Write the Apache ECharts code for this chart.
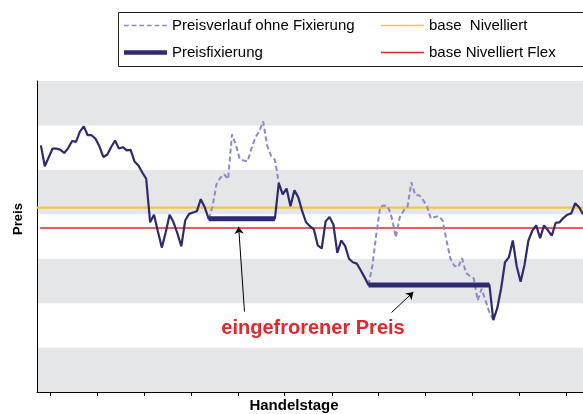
<!DOCTYPE html>
<html>
<head>
<meta charset="utf-8">
<script src="https://cdn.jsdelivr.net/npm/echarts@6/dist/echarts.min.js"></script>
<style>
  html, body { margin: 0; padding: 0; background: #fff; }
  #chart { width: 583px; height: 414px; }
</style>
</head>
<body>
<div id="chart"></div>
<script>
// Preis ohne Fixierung, ein Wert pro Handelstag (Tag 1..140)
const preisRoh = [
  5.55, 5.08, 5.28, 5.48, 5.48, 5.45, 5.38, 5.49, 5.65, 5.63,
  5.86, 5.98, 5.78, 5.78, 5.70, 5.53, 5.29, 5.34, 5.51, 5.66,
  5.48, 5.51, 5.44, 5.45, 5.19, 5.10, 4.94, 4.80, 3.82, 3.99,
  3.61, 3.25, 3.59, 3.99, 3.82, 3.57, 3.28, 3.86, 4.01, 4.04,
  4.07, 4.34, 4.16, 3.90, 4.17, 4.67, 4.82, 4.90, 4.79, 5.80,
  5.56, 5.24, 5.21, 5.19, 5.48, 5.73, 5.87, 6.09, 5.55, 5.32,
  5.23, 4.70, 4.45, 4.58, 4.18, 4.54, 4.38, 4.07, 3.82, 3.73,
  3.66, 3.30, 3.23, 3.84, 3.94, 3.77, 3.13, 3.41, 3.29, 3.00,
  2.92, 2.89, 2.74, 2.58, 2.41, 2.85, 3.55, 4.17, 4.20, 4.17,
  3.91, 3.48, 3.93, 4.08, 4.17, 4.72, 4.43, 4.43, 4.32, 4.18,
  3.90, 3.94, 3.96, 3.86, 3.41, 3.00, 2.84, 2.81, 3.01, 2.68,
  2.61, 2.56, 2.06, 2.32, 2.06, 1.79, 1.62, 1.88, 2.33, 2.92,
  3.03, 3.41, 2.83, 2.48, 2.86, 3.41, 3.63, 3.75, 3.46, 3.75,
  3.64, 3.52, 3.81, 3.82, 3.92, 3.99, 4.02, 4.25, 4.16, 4.00
];

// Fixierungs-Zeitraeume (Handelstage) und eingefrorener Preis
const fixVon = [44, 85];
const fixBis = [61, 116];
const fixNiveau = [3.90, 2.41];

const baseNivelliert = 4.15;
const baseNivelliertFlex = 3.69;

const tickTage = [3.3, 15.4, 27.4, 39.5, 51.5, 63.5, 75.6, 87.6, 99.6, 111.7, 123.7, 135.8];

const tage = preisRoh.map((v, i) => i + 1);

function fixIndex(tag, bisExtra) {
  for (let k = 0; k < fixVon.length; k++) {
    if (tag >= fixVon[k] && tag <= fixBis[k] + bisExtra) return k;
  }
  return -1;
}

const preisMitFix = tage.map((t, i) => {
  const k = fixIndex(t, 0);
  return [t, k >= 0 ? fixNiveau[k] : preisRoh[i]];
});
const preisOhneFix = tage.map((t, i) => [t, fixIndex(t, 1) >= 0 ? preisRoh[i] : null]);
const fixierung = tage.map(t => {
  const k = fixIndex(t, 0);
  return [t, k >= 0 ? fixNiveau[k] : null];
});

const navy = '#2d2a72';
const lila = '#8c89c8';
const gelb = '#f6c445';
const rot = '#e5262b';
const font = '"Liberation Sans", Arial, sans-serif';

const chart = echarts.init(document.getElementById('chart'));
chart.setOption({
  animation: false,
  textStyle: { fontFamily: font },
  grid: { left: 37, right: 0, top: 81, bottom: 22 },
  legend: [
    {
      orient: 'vertical', left: 119, top: 13, itemWidth: 43, itemHeight: 14, itemGap: 12,
      textStyle: { fontSize: 15, color: '#000', fontFamily: font },
      data: [
        { name: 'Preisverlauf ohne Fixierung', itemStyle: { color: lila },
          icon: 'path://M0,0h4.5v1.5h-4.5z M7.2,0h4.5v1.5h-4.5z M14.4,0h4.5v1.5h-4.5z M21.6,0h4.5v1.5h-4.5z M28.8,0h4.5v1.5h-4.5z M36,0h4.5v1.5h-4.5z' },
        { name: 'Preisfixierung', itemStyle: { color: navy }, icon: 'path://M0,0h43v4.5h-43z' }
      ]
    },
    {
      orient: 'vertical', left: 376, top: 13, itemWidth: 43, itemHeight: 14, itemGap: 12,
      textStyle: { fontSize: 15, color: '#000', fontFamily: font },
      data: [
        { name: 'base  Nivelliert', itemStyle: { color: gelb }, icon: 'path://M0,0h43v1.6h-43z' },
        { name: 'base Nivelliert Flex', itemStyle: { color: rot }, icon: 'path://M0,0h43v1.4h-43z' }
      ]
    }
  ],
  xAxis: {
    type: 'value', min: 0, max: 140,
    axisLine: { show: true, lineStyle: { color: '#000', width: 1 } },
    axisTick: { show: true, length: 4, customValues: tickTage, lineStyle: { color: '#000' } },
    axisLabel: { show: false },
    splitLine: { show: false }
  },
  yAxis: {
    type: 'value', min: 0, max: 7, interval: 1,
    axisLine: { show: true, lineStyle: { color: '#000', width: 1 } },
    axisTick: { show: false },
    axisLabel: { show: false },
    splitLine: { show: false },
    splitArea: { show: true, areaStyle: { color: ['#e5e6e8', '#ffffff'] } }
  },
  series: [
    {
      name: 'base  Nivelliert', type: 'line', color: gelb, symbol: 'none', z: 1,
      lineStyle: { width: 2.2, color: gelb },
      data: [[0, baseNivelliert], [140, baseNivelliert]]
    },
    {
      name: 'base Nivelliert Flex', type: 'line', color: rot, symbol: 'none', z: 1,
      lineStyle: { width: 1.6, color: rot },
      data: [[0.8, baseNivelliertFlex], [140, baseNivelliertFlex]]
    },
    {
      name: 'Preisverlauf ohne Fixierung', type: 'line', color: lila, symbol: 'none', z: 2,
      lineStyle: { width: 2, color: lila, type: [5, 3] },
      data: preisOhneFix
    },
    {
      name: 'Preis', type: 'line', color: navy, symbol: 'none', z: 3,
      lineStyle: { width: 2.2, color: navy },
      data: preisMitFix,
      markLine: {
        silent: true, symbol: ['none', 'arrow'], symbolSize: 7,
        label: { show: false },
        lineStyle: { color: '#000', width: 1, type: 'solid' },
        data: [
          [{ coord: [53.2, 1.81] }, { coord: [51.7, 3.72] }],
          [{ coord: [90.9, 1.79] }, { coord: [96.5, 2.25] }]
        ]
      }
    },
    {
      name: 'Preisfixierung', type: 'line', color: navy, symbol: 'none', z: 4,
      lineStyle: { width: 5, color: navy },
      data: fixierung
    }
  ],
  graphic: [
    { type: 'rect', z: 100, shape: { x: 118.5, y: 12.5, width: 480, height: 54 }, style: { fill: 'none', stroke: '#222', lineWidth: 1 } },
    { type: 'text', z: 100, x: 313, y: 328, style: { text: 'eingefrorener Preis', fill: rot, font: 'bold 20px ' + font, align: 'center', verticalAlign: 'middle' } },
    { type: 'text', z: 100, x: 294, y: 406, style: { text: 'Handelstage', fill: '#000', font: 'bold 15px ' + font, align: 'center', verticalAlign: 'middle' } },
    { type: 'text', z: 100, x: 18, y: 219, rotation: Math.PI / 2, style: { text: 'Preis', fill: '#000', font: 'bold 13px ' + font, align: 'center', verticalAlign: 'middle' } }
  ]
});
</script>
</body>
</html>
